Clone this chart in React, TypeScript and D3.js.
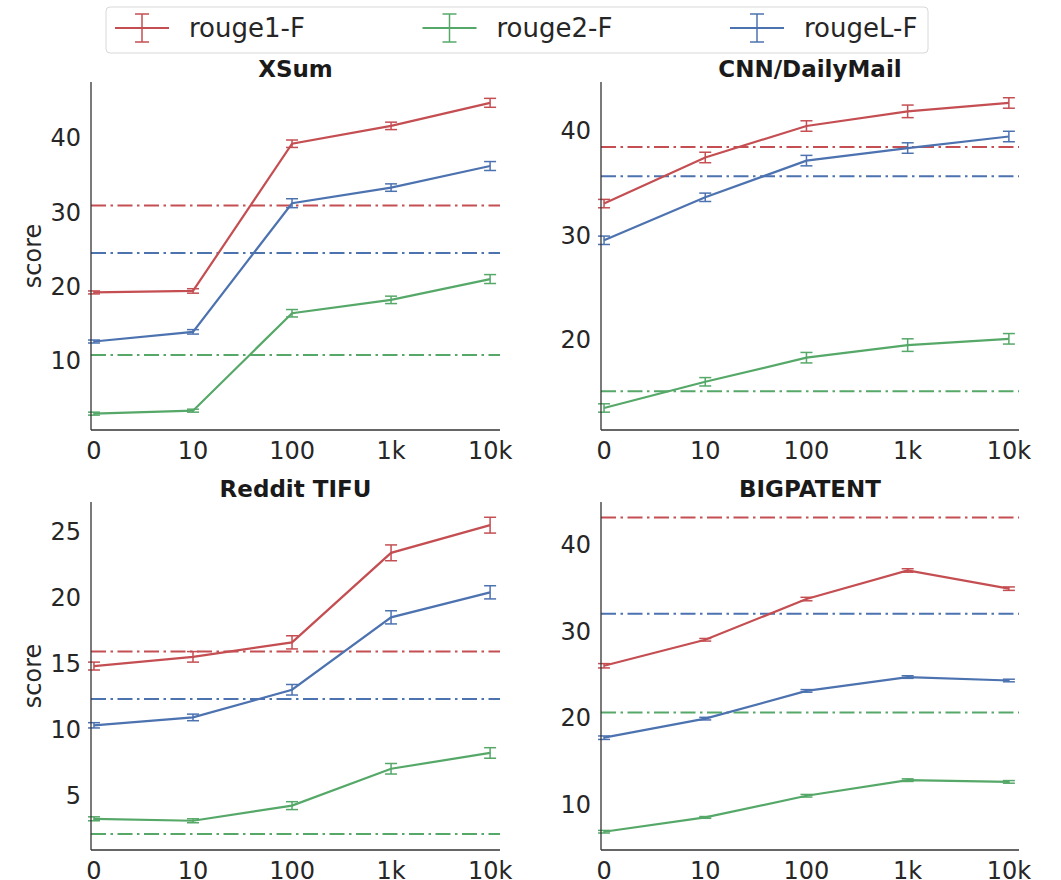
import React, { useRef, useEffect } from 'react';
import * as d3 from 'd3';

const xLabels = ['0', '10', '100', '1k', '10k'];
const metricNames = ['rouge1-F', 'rouge2-F', 'rougeL-F'];
const metricColors = ['#c44e52', '#55a868', '#4c72b0'];

// XSum
const xsumRouge1 = [19.2, 19.4, 39.2, 41.6, 44.7];
const xsumRouge2 = [2.9, 3.3, 16.4, 18.2, 21.0];
const xsumRougeL = [12.6, 13.9, 31.2, 33.3, 36.2];
const xsumRouge1Err = [0.2, 0.3, 0.5, 0.5, 0.6];
const xsumRouge2Err = [0.2, 0.2, 0.5, 0.5, 0.6];
const xsumRougeLErr = [0.2, 0.3, 0.6, 0.5, 0.6];
const xsumBaselines = [30.9, 10.8, 24.5];
const xsumTicks = [10, 20, 30, 40];

// CNN/DailyMail
const cnnRouge1 = [33.0, 37.4, 40.4, 41.8, 42.6];
const cnnRouge2 = [13.5, 16.0, 18.3, 19.5, 20.1];
const cnnRougeL = [29.5, 33.6, 37.1, 38.3, 39.4];
const cnnRouge1Err = [0.4, 0.5, 0.5, 0.6, 0.5];
const cnnRouge2Err = [0.4, 0.4, 0.5, 0.6, 0.5];
const cnnRougeLErr = [0.4, 0.4, 0.5, 0.5, 0.5];
const cnnBaselines = [38.4, 15.1, 35.6];
const cnnTicks = [20, 30, 40];

// Reddit TIFU
const redditRouge1 = [14.8, 15.5, 16.6, 23.4, 25.5];
const redditRouge2 = [3.2, 3.05, 4.2, 7.0, 8.2];
const redditRougeL = [10.3, 10.9, 13.0, 18.5, 20.4];
const redditRouge1Err = [0.3, 0.4, 0.5, 0.6, 0.6];
const redditRouge2Err = [0.15, 0.15, 0.3, 0.4, 0.4];
const redditRougeLErr = [0.2, 0.25, 0.4, 0.5, 0.5];
const redditBaselines = [15.9, 2.05, 12.3];
const redditTicks = [5, 10, 15, 20, 25];

// BIGPATENT
const patentRouge1 = [26.0, 29.0, 33.7, 37.0, 34.9];
const patentRouge2 = [6.85, 8.5, 11.0, 12.8, 12.6];
const patentRougeL = [17.7, 19.9, 23.1, 24.7, 24.3];
const patentRouge1Err = [0.25, 0.15, 0.2, 0.2, 0.2];
const patentRouge2Err = [0.15, 0.1, 0.15, 0.15, 0.15];
const patentRougeLErr = [0.2, 0.15, 0.15, 0.15, 0.15];
const patentBaselines = [43.1, 20.6, 32.0];
const patentTicks = [10, 20, 30, 40];

const panels = [
  {
    title: 'XSum', x0: 91, x1: 500, y0: 82, y1: 430, yDomain: [0.7, 47.5], ylabel: true,
    means: [xsumRouge1, xsumRouge2, xsumRougeL], errs: [xsumRouge1Err, xsumRouge2Err, xsumRougeLErr],
    baselines: xsumBaselines, ticks: xsumTicks,
  },
  {
    title: 'CNN/DailyMail', x0: 601, x1: 1019, y0: 82, y1: 430, yDomain: [11.4, 44.6], ylabel: false,
    means: [cnnRouge1, cnnRouge2, cnnRougeL], errs: [cnnRouge1Err, cnnRouge2Err, cnnRougeLErr],
    baselines: cnnBaselines, ticks: cnnTicks,
  },
  {
    title: 'Reddit TIFU', x0: 91, x1: 500, y0: 502, y1: 850, yDomain: [0.83, 27.26], ylabel: true,
    means: [redditRouge1, redditRouge2, redditRougeL], errs: [redditRouge1Err, redditRouge2Err, redditRougeLErr],
    baselines: redditBaselines, ticks: redditTicks,
  },
  {
    title: 'BIGPATENT', x0: 601, x1: 1019, y0: 502, y1: 850, yDomain: [4.74, 44.9], ylabel: false,
    means: [patentRouge1, patentRouge2, patentRougeL], errs: [patentRouge1Err, patentRouge2Err, patentRougeLErr],
    baselines: patentBaselines, ticks: patentTicks,
  },
];

const FONT = 'DejaVu Sans, sans-serif';
const TEXT = '#262626';

const App = () => {
  const svgRef = useRef<SVGSVGElement>(null);

  useEffect(() => {
    const svg = d3.select(svgRef.current);
    svg.selectAll('*').remove();
    svg.append('rect').attr('width', 1061).attr('height', 880).attr('fill', '#fff');

    panels.forEach((p) => {
      const g = svg.append('g');
      const x = d3.scaleLinear().domain([-0.03, 4.1]).range([p.x0, p.x1]);
      const y = d3.scaleLinear().domain(p.yDomain).range([p.y1, p.y0]);

      // baselines
      p.baselines.forEach((b, i) => {
        g.append('line')
          .attr('x1', p.x0).attr('x2', p.x1)
          .attr('y1', y(b)).attr('y2', y(b))
          .attr('stroke', metricColors[i])
          .attr('stroke-width', 2)
          .attr('stroke-dasharray', '15,4.5,2.5,4.5');
      });

      const line = d3.line<number>()
        .x((d, i) => x(i))
        .y((d) => y(d));

      p.means.forEach((m, si) => {
        const c = metricColors[si];
        g.append('path')
          .datum(m)
          .attr('fill', 'none')
          .attr('stroke', c)
          .attr('stroke-width', 2.2)
          .attr('d', line);

        m.forEach((v, i) => {
          const e = p.errs[si][i];
          const cx = x(i);
          const eb = g.append('g').attr('stroke', c).attr('stroke-width', 1.5);
          eb.append('line').attr('x1', cx).attr('x2', cx).attr('y1', y(v - e)).attr('y2', y(v + e));
          eb.append('line').attr('x1', cx - 6).attr('x2', cx + 6).attr('y1', y(v - e)).attr('y2', y(v - e));
          eb.append('line').attr('x1', cx - 6).attr('x2', cx + 6).attr('y1', y(v + e)).attr('y2', y(v + e));
        });
      });

      // spines
      g.append('line').attr('x1', p.x0).attr('x2', p.x0).attr('y1', p.y0).attr('y2', p.y1)
        .attr('stroke', '#333').attr('stroke-width', 1.3);
      g.append('line').attr('x1', p.x0).attr('x2', p.x1).attr('y1', p.y1).attr('y2', p.y1)
        .attr('stroke', '#333').attr('stroke-width', 1.3);

      // tick labels
      p.ticks.forEach((t) => {
        g.append('text')
          .attr('x', p.x0 - 10).attr('y', y(t)).attr('dy', '0.36em')
          .attr('text-anchor', 'end')
          .attr('font-family', FONT).attr('font-size', 24).attr('fill', TEXT)
          .text(t);
      });
      xLabels.forEach((lab, i) => {
        g.append('text')
          .attr('x', x(i)).attr('y', p.y1 + 29)
          .attr('text-anchor', 'middle')
          .attr('font-family', FONT).attr('font-size', 24).attr('fill', TEXT)
          .text(lab);
      });

      g.append('text')
        .attr('x', (p.x0 + p.x1) / 2).attr('y', p.y0 - 5)
        .attr('text-anchor', 'middle')
        .attr('font-family', FONT).attr('font-size', 23).attr('font-weight', 'bold').attr('fill', '#1a1a1a')
        .text(p.title);

      if (p.ylabel) {
        const cy = (p.y0 + p.y1) / 2;
        g.append('text')
          .attr('transform', `translate(41, ${cy}) rotate(-90)`)
          .attr('text-anchor', 'middle')
          .attr('font-family', FONT).attr('font-size', 24).attr('fill', TEXT)
          .text('score');
      }
    });

    // legend
    const lg = svg.append('g');
    lg.append('rect')
      .attr('x', 106).attr('y', 7).attr('width', 822).attr('height', 46).attr('rx', 4)
      .attr('fill', '#fff').attr('stroke', '#d8d8d8').attr('stroke-width', 1);
    metricNames.forEach((name, i) => {
      const hx = 115 + i * 307.5;
      const c = metricColors[i];
      lg.append('line').attr('x1', hx).attr('x2', hx + 54).attr('y1', 28).attr('y2', 28)
        .attr('stroke', c).attr('stroke-width', 2);
      lg.append('line').attr('x1', hx + 27).attr('x2', hx + 27).attr('y1', 14).attr('y2', 42)
        .attr('stroke', c).attr('stroke-width', 1.5);
      lg.append('line').attr('x1', hx + 20).attr('x2', hx + 34).attr('y1', 14).attr('y2', 14)
        .attr('stroke', c).attr('stroke-width', 1.5);
      lg.append('line').attr('x1', hx + 20).attr('x2', hx + 34).attr('y1', 42).attr('y2', 42)
        .attr('stroke', c).attr('stroke-width', 1.5);
      lg.append('text')
        .attr('x', hx + 74).attr('y', 28).attr('dy', '0.36em')
        .attr('font-family', FONT).attr('font-size', 26).attr('fill', TEXT)
        .text(name);
    });
  }, []);

  return (
    <div>
      <svg ref={svgRef} width={1061} height={880} style={{ position: 'absolute', left: 0, top: 0 }}></svg>
    </div>
  );
};

export default App;
